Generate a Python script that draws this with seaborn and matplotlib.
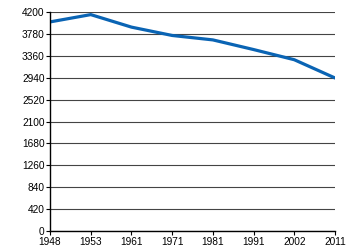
import matplotlib
matplotlib.use("Agg")
import matplotlib.pyplot as plt
import seaborn as sns
import pandas as pd

years = ["1948", "1953", "1961", "1971", "1981", "1991", "2002", "2011"]
population = [4010, 4150, 3910, 3750, 3665, 3480, 3285, 2935]
yticks = [0, 420, 840, 1260, 1680, 2100, 2520, 2940, 3360, 3780, 4200]

sns.set_style("white")
plt.rcParams['font.family'] = ['Liberation Sans', 'DejaVu Sans']

fig = plt.figure(figsize=(3.5, 2.5), dpi=100)
ax = fig.add_axes([0.143, 0.076, 0.814, 0.876])

df = pd.DataFrame({"year": years, "pop": population})
sns.lineplot(data=df, x="year", y="pop", ax=ax, color="#0a64b4", linewidth=2.3, sort=False)

ax.set_xlim(0, len(years) - 1)
ax.set_ylim(0, 4200)
ax.set_yticks(yticks)
ax.set_yticklabels([str(v) for v in yticks])
ax.set_xlabel("")
ax.set_ylabel("")
ax.yaxis.grid(True, color="#444444", linewidth=0.8)
ax.xaxis.grid(False)
ax.set_axisbelow(True)
for s in ["top", "right"]:
    ax.spines[s].set_visible(False)
for s in ["left", "bottom"]:
    ax.spines[s].set_color("black")
    ax.spines[s].set_linewidth(1.0)
ax.tick_params(axis="both", labelsize=7.3, colors="black", length=3, width=0.8, pad=1)
ax.tick_params(axis="x", direction="out", bottom=True)
ax.tick_params(axis="y", direction="out", left=True)

fig.savefig("out.png", dpi=100)
